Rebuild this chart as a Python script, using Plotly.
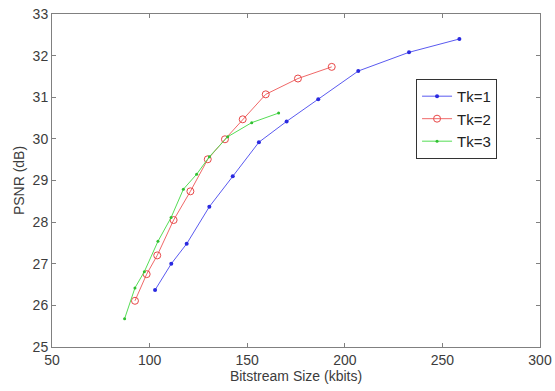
import plotly.graph_objects as go

# Tk=1
tk1_x = [102.8, 111.1, 119.0, 130.6, 142.6, 156.0, 170.2, 186.4, 206.9, 232.9, 258.7]
tk1_y = [26.37, 27.0, 27.48, 28.37, 29.1, 29.92, 30.42, 30.95, 31.63, 32.08, 32.4]
# Tk=2
tk2_x = [92.5, 98.5, 103.9, 112.3, 120.9, 129.8, 138.6, 147.7, 159.5, 176.0, 193.3]
tk2_y = [26.11, 26.75, 27.2, 28.05, 28.74, 29.51, 29.99, 30.47, 31.07, 31.45, 31.73]
# Tk=3
tk3_x = [87.2, 92.5, 97.3, 104.3, 111.0, 117.3, 124.1, 130.6, 140.0, 152.3, 166.1]
tk3_y = [25.68, 26.42, 26.81, 27.54, 28.11, 28.79, 29.15, 29.57, 30.05, 30.39, 30.62]

x_ticks = [50, 100, 150, 200, 250, 300]
y_ticks = [25, 26, 27, 28, 29, 30, 31, 32, 33]

FONT = "Liberation Sans, Arial, sans-serif"
TXT = "#3c3c3c"
AX = "#808080"

fig = go.Figure()
fig.add_trace(go.Scatter(x=tk1_x, y=tk1_y, name="Tk=1", mode="lines+markers",
                         line=dict(color="#5a5af0", width=1),
                         marker=dict(symbol="circle", size=4, color="#2a2ae0")))
fig.add_trace(go.Scatter(x=tk2_x, y=tk2_y, name="Tk=2", mode="lines+markers",
                         line=dict(color="#f06868", width=1),
                         marker=dict(symbol="circle-open", size=7, color="#e84848", line=dict(width=1))))
fig.add_trace(go.Scatter(x=tk3_x, y=tk3_y, name="Tk=3", mode="lines+markers",
                         line=dict(color="#55dd55", width=1),
                         marker=dict(symbol="circle", size=3, color="#30c030")))

axis_common = dict(showgrid=False, zeroline=False, showline=True, linecolor=AX, linewidth=1,
                   mirror="ticks", ticks="inside", ticklen=4, tickcolor=AX, automargin=False,
                   ticklabeloverflow="allow",
                   tickfont=dict(family=FONT, size=14, color=TXT))

fig.update_layout(
    width=555, height=391,
    margin=dict(l=52, r=15, t=14, b=44),
    paper_bgcolor="white", plot_bgcolor="white",
    font=dict(family=FONT, size=14, color=TXT),
    xaxis=dict(range=[50, 300], tickvals=x_ticks, ticktext=[str(v) for v in x_ticks],
               title=dict(text="Bitstream Size (kbits)", standoff=2, font=dict(size=14, color=TXT)),
               **axis_common),
    yaxis=dict(range=[25, 33], tickvals=y_ticks, ticktext=[str(v) for v in y_ticks],
               title=dict(text="PSNR (dB)", standoff=4, font=dict(size=14, color=TXT)),
               **axis_common),
    legend=dict(x=0.746, y=0.805, xanchor="left", yanchor="top",
                bgcolor="white", bordercolor="#333333", borderwidth=1,
                font=dict(family=FONT, size=15, color="#222222"),
                itemwidth=30, tracegroupgap=0),
    showlegend=True,
)

# remove the page's default body margin so the figure sits at the window's corner
fig.write_html("out.html",
               config={"displayModeBar": False},
               post_script="document.body.style.margin='0';document.body.style.overflow='hidden';")
